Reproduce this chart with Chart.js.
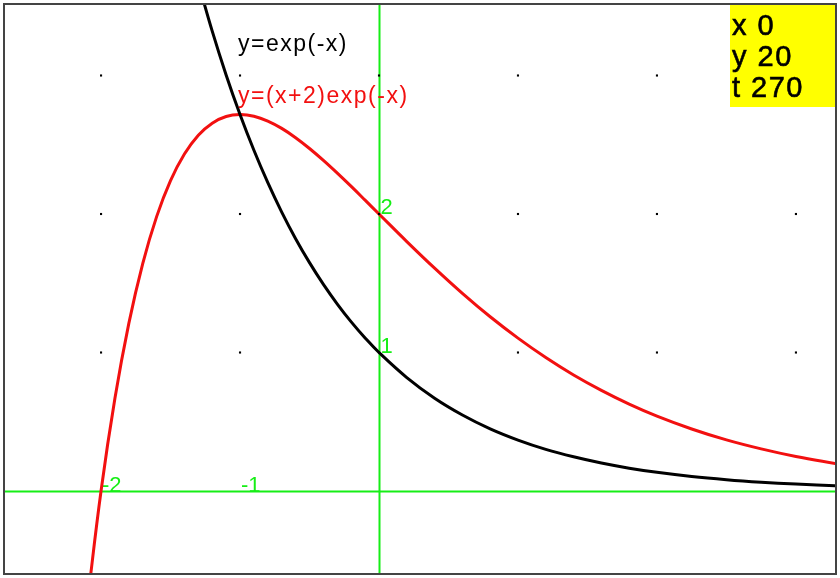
<!DOCTYPE html>
<html>
<head>
<meta charset="utf-8">
<script src="https://cdn.jsdelivr.net/npm/chart.js@4/dist/chart.umd.min.js"></script>
<style>
  body { margin: 0; background: #fff; }
  #wrap { width: 840px; height: 578px; }
</style>
</head>
<body>
<div id="wrap"><canvas id="graph"></canvas></div>
<script>
// values
const x_black = [-1.3, -1.2, -1.1, -1.0, -0.9, -0.8, -0.7, -0.6, -0.5, -0.4, -0.3, -0.2, -0.1, 0,
  0.2, 0.4, 0.6, 0.8, 1.0, 1.2, 1.4, 1.6, 1.8, 2.0, 2.25, 2.5, 2.75, 3.0, 3.3];
const y_black = [3.669, 3.320, 3.004, 2.718, 2.460, 2.226, 2.014, 1.822, 1.649, 1.492, 1.350, 1.221, 1.105, 1.000,
  0.819, 0.670, 0.549, 0.449, 0.368, 0.301, 0.247, 0.202, 0.165, 0.135, 0.105, 0.082, 0.064, 0.050, 0.037];

const x_red = [-2.1, -2.0, -1.9, -1.8, -1.7, -1.6, -1.5, -1.4, -1.3, -1.2, -1.1, -1.0, -0.9, -0.8,
  -0.7, -0.6, -0.5, -0.4, -0.3, -0.2, -0.1, 0, 0.2, 0.4, 0.6, 0.8, 1.0, 1.2, 1.4, 1.6, 1.8, 2.0,
  2.25, 2.5, 2.75, 3.0, 3.3];
const y_red = [-0.817, 0, 0.669, 1.210, 1.642, 1.981, 2.241, 2.433, 2.569, 2.656, 2.704, 2.718, 2.706, 2.671,
  2.618, 2.551, 2.473, 2.387, 2.295, 2.199, 2.100, 2.000, 1.801, 1.609, 1.427, 1.258, 1.104, 0.964, 0.838, 0.727, 0.628, 0.541,
  0.448, 0.369, 0.304, 0.249, 0.195];

const grid_x = [-2, -1, 0, 1, 2, 3];
const grid_y = [1, 2, 3];
const x_tick_labels = [-2, -1];
const y_tick_labels = [1, 2];
const curve_labels = ['y=exp(-x)', 'y=(x+2)exp(-x)'];
const info_lines = ['x 0', 'y 20', 't 270'];

const dots = [];
grid_x.forEach(gx => grid_y.forEach(gy => dots.push({x: gx, y: gy})));

const axes_plugin = {
  id: 'axes',
  beforeDatasetsDraw(chart) {
    const {ctx, chartArea: a, scales: {x, y}} = chart;
    const x0 = Math.round(x.getPixelForValue(0)) + 0.5;
    const y0 = Math.round(y.getPixelForValue(0)) + 0.5;
    ctx.save();
    ctx.strokeStyle = '#16ee16';
    ctx.lineWidth = 2;
    ctx.beginPath();
    ctx.moveTo(a.left, y0); ctx.lineTo(a.right, y0);
    ctx.moveTo(x0, a.top); ctx.lineTo(x0, a.bottom);
    ctx.stroke();
    ctx.fillStyle = '#16ee16';
    ctx.font = '22px "Liberation Sans", Arial, sans-serif';
    ctx.textBaseline = 'alphabetic';
    x_tick_labels.forEach(v => ctx.fillText(String(v), x.getPixelForValue(v) + 1, y0));
    y_tick_labels.forEach(v => ctx.fillText(String(v), x0 + 1, y.getPixelForValue(v)));
    ctx.restore();
  },
  afterDraw(chart) {
    const {ctx, chartArea: a, scales: {x, y}} = chart;
    ctx.save();
    ctx.font = '23px "Liberation Sans", Arial, sans-serif';
    ctx.letterSpacing = '1.5px';
    ctx.fillStyle = '#000';
    ctx.fillText(curve_labels[0], x.getPixelForValue(-1) - 2, y.getPixelForValue(3.18));
    ctx.fillStyle = '#f21010';
    ctx.fillText(curve_labels[1], x.getPixelForValue(-1) - 2, y.getPixelForValue(2.8));

    // info box
    ctx.fillStyle = '#ffff00';
    ctx.fillRect(a.right - 105, a.top, 105, 102);
    ctx.fillStyle = '#000';
    ctx.font = '29px "Liberation Sans", Arial, sans-serif';
    ctx.letterSpacing = '1.5px';
    ctx.lineWidth = 0.6;
    ctx.strokeStyle = '#000';
    info_lines.forEach((t, i) => {
      ctx.fillText(t, a.right - 103, a.top + 30 + i * 31);
      ctx.strokeText(t, a.right - 103, a.top + 30 + i * 31);
    });

    // frame
    ctx.letterSpacing = '0px';
    ctx.strokeStyle = '#444';
    ctx.lineWidth = 2;
    ctx.strokeRect(a.left - 1, a.top - 1, a.width + 2, a.height + 2);
    ctx.restore();
  }
};

new Chart(document.getElementById('graph'), {
  type: 'scatter',
  data: {
    datasets: [{
      label: 'grid',
      data: dots,
      pointStyle: 'rect',
      pointRadius: 1.5,
      backgroundColor: '#000',
      borderWidth: 0,
      showLine: false
    }, {
      label: curve_labels[0],
      data: x_black.map((v, i) => ({x: v, y: y_black[i]})),
      showLine: true,
      borderColor: '#000',
      borderWidth: 3,
      pointRadius: 0,
      tension: 0.4
    }, {
      label: curve_labels[1],
      data: x_red.map((v, i) => ({x: v, y: y_red[i]})),
      showLine: true,
      borderColor: '#f21010',
      borderWidth: 3,
      pointRadius: 0,
      tension: 0.4
    }]
  },
  options: {
    responsive: true,
    maintainAspectRatio: false,
    animation: false,
    layout: { padding: { left: 5, right: 5, top: 5, bottom: 5 } },
    plugins: { legend: { display: false }, tooltip: { enabled: false } },
    scales: {
      x: { type: 'linear', min: -2.691, max: 3.281, display: false },
      y: { type: 'linear', min: -0.592, max: 3.509, display: false }
    }
  },
  plugins: [axes_plugin]
});
</script>
</body>
</html>
